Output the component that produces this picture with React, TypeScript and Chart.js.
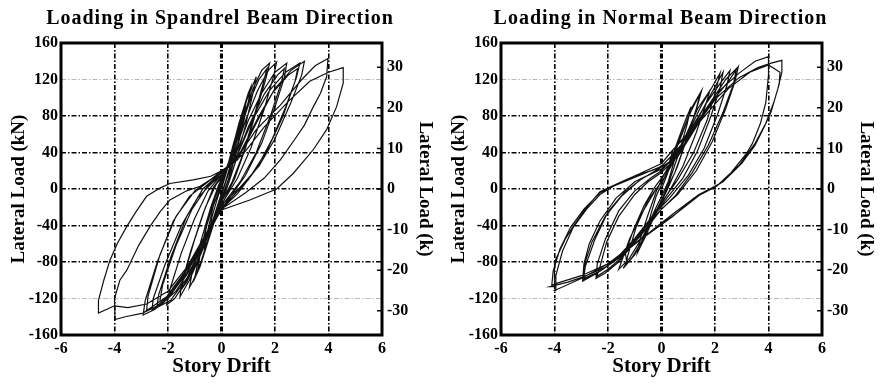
import React, { useEffect, useRef } from "react";
import { Chart, registerables } from "chart.js";

Chart.register(...registerables);

// ---------- axis tick values ----------
const driftTicks = [-6, -4, -2, 0, 2, 4, 6];
const kNTicks = [-160, -120, -80, -40, 0, 40, 80, 120, 160];
const kipTicks = [-30, -20, -10, 0, 10, 20, 30];
const KN_PER_KIP = 4.448;

const titleSpandrel = "Loading in Spandrel Beam Direction";
const titleNormal = "Loading in Normal Beam Direction";
const xTitle = "Story Drift";
const yTitleKN = "Lateral Load (kN)";
const yTitleKip = "Lateral Load (k)";

type Pt = [number, number];

// ---------- Spandrel beam direction: [drift, load kN] per cycle ----------
const spandrelCycle1: Pt[] = [[0,0],[0.15,15],[0.3,30],[0.45,42],[0.35,28],[0.15,8],[0,-5],[-0.15,-18],[-0.3,-32],[-0.45,-45],[-0.35,-30],[-0.15,-10],[0,3]];
const spandrelCycle2: Pt[] = [[0.2,20],[0.45,48],[0.65,68],[0.55,52],[0.3,20],[0.05,-2],[-0.2,-25],[-0.45,-50],[-0.65,-68],[-0.55,-50],[-0.3,-18],[0,5]];
const spandrelCycle3: Pt[] = [[0.2,22],[0.45,50],[0.7,75],[0.9,92],[0.8,75],[0.55,42],[0.25,10],[0,-10],[-0.25,-30],[-0.5,-55],[-0.75,-78],[-0.9,-91],[-0.8,-72],[-0.55,-40],[-0.25,-10],[0,8]];
const spandrelCycle4: Pt[] = [[0.3,32],[0.65,72],[1.0,105],[1.1,112],[1.0,95],[0.7,58],[0.35,18],[0,-12],[-0.4,-48],[-0.8,-85],[-1.0,-98],[-0.9,-82],[-0.6,-45],[-0.25,-8],[0,12]];
const spandrelCycle5: Pt[] = [[0.3,28],[0.6,62],[0.95,98],[1.3,123],[1.2,108],[0.9,70],[0.55,32],[0.25,5],[0,-15],[-0.35,-42],[-0.7,-75],[-1.05,-100],[-1.2,-108],[-1.1,-92],[-0.75,-55],[-0.4,-20],[-0.1,5],[0.1,15]];
const spandrelCycle6: Pt[] = [[0.4,38],[0.8,78],[1.15,108],[1.5,130],[1.8,138],[1.65,120],[1.3,85],[0.9,45],[0.5,12],[0.1,-12],[-0.3,-35],[-0.75,-70],[-1.2,-100],[-1.55,-118],[-1.5,-104],[-1.15,-68],[-0.7,-28],[-0.3,2],[0,14]];
const spandrelCycle7: Pt[] = [[0.35,30],[0.75,70],[1.1,100],[1.4,120],[1.7,132],[1.55,115],[1.2,78],[0.8,38],[0.4,8],[0,-14],[-0.4,-40],[-0.9,-78],[-1.3,-102],[-1.5,-110],[-1.4,-95],[-1.0,-55],[-0.6,-20],[-0.2,5],[0.1,16]];
const spandrelCycle8: Pt[] = [[0.4,32],[0.9,75],[1.35,108],[1.75,130],[2.06,139],[1.95,124],[1.6,88],[1.1,45],[0.6,12],[0.1,-12],[-0.35,-35],[-0.8,-68],[-1.3,-100],[-1.75,-120],[-2.05,-127],[-1.95,-112],[-1.5,-70],[-1.0,-32],[-0.5,-2],[0,16]];
const spandrelCycle9: Pt[] = [[0.5,35],[1.0,75],[1.5,105],[2.0,128],[2.44,138],[2.35,122],[2.0,90],[1.5,50],[0.9,15],[0.3,-10],[-0.2,-30],[-0.7,-62],[-1.3,-98],[-1.9,-122],[-2.42,-130],[-2.35,-116],[-1.9,-75],[-1.3,-30],[-0.7,0],[0,18]];
const spandrelCycle10: Pt[] = [[0.5,30],[1.0,68],[1.6,104],[2.1,125],[2.35,132],[2.25,118],[1.85,82],[1.3,40],[0.7,8],[0.1,-15],[-0.5,-48],[-1.1,-85],[-1.7,-112],[-2.2,-125],[-2.3,-122],[-2.2,-105],[-1.7,-62],[-1.1,-22],[-0.5,4],[0,16]];
const spandrelCycle11: Pt[] = [[0.6,38],[1.2,78],[1.8,108],[2.4,128],[2.93,138],[2.8,122],[2.4,90],[1.9,55],[1.3,22],[0.6,-5],[0,-22],[-0.6,-55],[-1.3,-92],[-2.0,-120],[-2.5,-132],[-2.93,-138],[-2.85,-122],[-2.4,-80],[-1.8,-35],[-1.2,-8],[-0.5,8],[0,20]];
const spandrelCycle12: Pt[] = [[0.6,32],[1.3,72],[1.9,105],[2.5,125],[2.85,132],[2.75,118],[2.3,80],[1.7,42],[1.0,10],[0.3,-12],[-0.4,-40],[-1.1,-80],[-1.8,-112],[-2.4,-128],[-2.8,-134],[-2.75,-118],[-2.3,-72],[-1.7,-30],[-1.0,-2],[-0.4,10],[0,18]];
const spandrelCycle13: Pt[] = [[0.7,40],[1.4,80],[2.0,110],[2.6,130],[3.1,140],[3.0,125],[2.6,95],[2.0,55],[1.4,25],[0.7,2],[0,-18],[-0.7,-55],[-1.5,-98],[-2.2,-125],[-2.6,-133],[-2.55,-120],[-2.1,-82],[-1.5,-40],[-0.9,-10],[-0.3,8],[0,16]];
const spandrelCycle14: Pt[] = [[0.6,35],[1.3,65],[2.2,92],[3.0,120],[3.5,135],[3.98,143],[3.93,123],[3.7,105],[3.43,90],[3.1,70],[2.8,57],[2.2,32],[1.6,12],[0.9,-4],[0,-22],[-0.6,-50],[-1.3,-88],[-2.05,-118],[-2.93,-136],[-3.6,-140],[-3.98,-143],[-4.0,-120],[-3.8,-100],[-3.54,-89],[-3.1,-62],[-2.67,-41],[-2.3,-25],[-1.93,-12],[-1.3,-2],[-0.8,3],[0,18]];
const spandrelCycle15: Pt[] = [[0.8,38],[1.6,68],[2.5,96],[3.3,118],[4.0,128],[4.55,133],[4.55,116],[4.3,90],[3.93,65],[3.43,43],[2.68,17],[2.06,0],[1.06,-12],[0,-23],[-0.6,-50],[-1.3,-86],[-2.0,-112],[-2.8,-126],[-3.5,-130],[-4.0,-128],[-4.6,-136],[-4.6,-122],[-4.4,-100],[-4.17,-78],[-3.9,-60],[-3.54,-41],[-3.2,-25],[-2.8,-8],[-2.3,1],[-1.93,6],[-1.06,10],[-0.4,14],[0,20]];

const spandrelCycles = [spandrelCycle1, spandrelCycle2, spandrelCycle3, spandrelCycle4, spandrelCycle5, spandrelCycle6, spandrelCycle7, spandrelCycle8, spandrelCycle9, spandrelCycle10, spandrelCycle11, spandrelCycle12, spandrelCycle13, spandrelCycle14, spandrelCycle15];

// ---------- Normal beam direction: [drift, load kN] per cycle ----------
const normalCycle1: Pt[] = [[0,0],[0.2,15],[0.4,32],[0.6,45],[0.45,28],[0.25,8],[0,-8],[-0.2,-20],[-0.4,-33],[-0.55,-43],[-0.4,-28],[-0.2,-8],[0,5]];
const normalCycle2: Pt[] = [[0.25,22],[0.55,48],[0.85,72],[1.1,90],[0.95,70],[0.6,35],[0.25,5],[0,-12],[-0.3,-32],[-0.6,-52],[-0.9,-70],[-0.8,-55],[-0.5,-28],[-0.2,-3],[0,10]];
const normalCycle3: Pt[] = [[0.35,30],[0.75,60],[1.15,90],[1.5,108],[1.35,92],[1.0,60],[0.6,25],[0.2,-2],[-0.2,-25],[-0.6,-50],[-1.0,-72],[-1.43,-87],[-1.3,-80],[-1.35,-70],[-1.05,-45],[-0.65,-18],[-0.25,2],[0,12]];
const normalCycle4: Pt[] = [[0.3,25],[0.7,55],[1.1,85],[1.45,105],[1.3,88],[0.95,55],[0.5,18],[0.1,-6],[-0.3,-30],[-0.7,-55],[-1.1,-75],[-1.35,-84],[-1.25,-72],[-0.95,-42],[-0.5,-12],[-0.1,4],[0.1,12]];
const normalCycle5: Pt[] = [[0.4,28],[0.9,58],[1.35,88],[1.81,108],[1.65,92],[1.3,62],[0.8,25],[0.3,-2],[-0.2,-25],[-0.7,-52],[-1.2,-76],[-1.6,-88],[-1.5,-80],[-1.2,-55],[-0.7,-25],[-0.2,0],[0.1,12]];
const normalCycle6: Pt[] = [[0.5,32],[1.0,62],[1.5,92],[1.9,112],[2.19,127],[2.05,110],[1.7,75],[1.2,40],[0.6,10],[0,-15],[-0.5,-36],[-1.0,-56],[-1.6,-78],[-2.0,-88],[-2.42,-96],[-2.3,-85],[-2.05,-58],[-1.6,-30],[-1.0,-6],[-0.5,8],[0,18]];
const normalCycle7: Pt[] = [[0.6,36],[1.2,68],[1.7,96],[2.0,112],[2.3,128],[2.2,112],[1.85,80],[1.35,42],[0.8,12],[0.2,-10],[-0.4,-34],[-1.0,-58],[-1.6,-80],[-2.1,-92],[-2.45,-98],[-2.4,-82],[-2.1,-55],[-1.6,-24],[-1.0,-2],[-0.4,12],[0,20]];
const normalCycle8: Pt[] = [[0.5,36],[1.1,66],[1.7,95],[2.2,116],[2.56,130],[2.45,114],[2.1,82],[1.6,45],[1.0,15],[0.3,-10],[-0.4,-32],[-1.0,-54],[-1.7,-77],[-2.3,-90],[-2.92,-100],[-2.85,-85],[-2.5,-56],[-2.0,-25],[-1.4,-4],[-0.7,12],[0,22]];
const normalCycle9: Pt[] = [[0.6,38],[1.3,70],[2.0,100],[2.5,118],[2.87,134],[2.75,118],[2.4,88],[1.9,52],[1.3,20],[0.6,-6],[0,-22],[-0.8,-52],[-1.6,-76],[-2.3,-90],[-2.9,-98],[-2.85,-80],[-2.6,-58],[-2.1,-30],[-1.5,-8],[-0.8,10],[0,24]];
const normalCycle10: Pt[] = [[0.6,35],[1.3,68],[1.9,98],[2.4,120],[2.8,132],[2.7,116],[2.3,84],[1.75,48],[1.15,18],[0.5,-8],[-0.2,-28],[-1.0,-56],[-1.8,-80],[-2.4,-92],[-2.95,-101],[-2.9,-82],[-2.7,-60],[-2.3,-35],[-1.7,-10],[-1.0,8],[-0.3,18],[0.3,30]];
const normalCycle11: Pt[] = [[0.43,43],[1.3,72],[2.06,105],[2.9,127],[3.5,140],[4.0,145],[4.0,125],[3.9,95],[3.7,72],[3.4,50],[3.18,39],[2.6,18],[2.06,3],[1.2,-10],[0.43,-30],[-0.8,-56],[-2.05,-85],[-2.9,-96],[-3.5,-102],[-4.17,-107],[-4.0,-107],[-4.0,-80],[-3.6,-55],[-3.3,-41],[-2.8,-20],[-2.3,-3],[-1.5,8],[-0.8,17],[0,28]];
const normalCycle12: Pt[] = [[0.43,43],[1.3,70],[2.06,100],[2.9,122],[3.6,133],[4.1,138],[4.5,141],[4.5,128],[4.35,110],[4.1,85],[3.87,70],[3.5,48],[3.0,28],[2.3,8],[1.5,-5],[0.5,-28],[-0.8,-55],[-2.0,-82],[-3.0,-98],[-3.98,-111],[-3.95,-95],[-3.7,-68],[-3.3,-42],[-2.8,-22],[-2.3,-6],[-1.8,3],[-0.8,15],[0,25]];
const normalCycle13: Pt[] = [[0.5,40],[1.5,76],[2.5,110],[3.3,128],[4.0,136],[4.43,128],[4.4,115],[4.2,95],[3.9,72],[3.5,50],[2.9,26],[2.2,6],[1.4,-6],[0.4,-28],[-0.9,-58],[-2.0,-82],[-3.0,-95],[-4.1,-105],[-4.05,-90],[-3.8,-66],[-3.4,-42],[-2.9,-22],[-2.3,-4],[-1.6,6],[-0.8,16],[0,24]];

const normalCycles = [normalCycle1, normalCycle2, normalCycle3, normalCycle4, normalCycle5, normalCycle6, normalCycle7, normalCycle8, normalCycle9, normalCycle10, normalCycle11, normalCycle12, normalCycle13];

const SERIF = "'Liberation Serif', 'Times New Roman', Times, serif";

const framePlugin = {
  id: "frame",
  beforeDraw(chart: any) {
    // slightly widen the letter spacing of the chart title only, like the scanned original
    const tb = chart.titleBlock;
    if (tb && !tb.__spaced) {
      const orig = tb.draw.bind(tb);
      tb.draw = (area: any) => {
        const c = chart.ctx;
        c.save();
        (c as any).letterSpacing = "1px";
        orig(area);
        c.restore();
      };
      tb.__spaced = true;
    }
  },
  afterDraw(chart: any) {
    const { ctx, chartArea } = chart;
    const { left, right, top, bottom } = chartArea;
    ctx.save();
    const y2 = chart.scales.y2;
    ctx.strokeStyle = "#000";
    ctx.lineWidth = 1.5;
    ctx.beginPath();
    kipTicks.forEach((v) => {
      const py = y2.getPixelForValue(v);
      ctx.moveTo(right - 5, py);
      ctx.lineTo(right, py);
    });
    ctx.stroke();
    ctx.lineWidth = 3;
    ctx.strokeRect(left, top, right - left, bottom - top);
    ctx.restore();
  },
};

function makeConfig(title: string, cycles: Pt[][], rightWidth: number): any {
  const points = cycles.flat().map(([x, y]) => ({ x, y }));
  const gridDash = [5, 2, 1.5, 2];
  return {
    type: "scatter",
    data: {
      datasets: [
        {
          data: points,
          showLine: true,
          borderColor: "#111",
          borderWidth: 1.2,
          pointRadius: 0,
          tension: 0,
          fill: false,
        },
      ],
    },
    options: {
      responsive: false,
      animation: false,
      events: [],
      layout: { padding: 0 },
      plugins: {
        legend: { display: false },
        tooltip: { enabled: false },
        title: {
          display: true,
          text: title,
          color: "#000",
          font: { family: SERIF, size: 20, weight: "bold" },
          padding: { top: 6.5, bottom: 12.5 },
        },
      },
      scales: {
        x: {
          type: "linear",
          min: -6,
          max: 6,
          afterBuildTicks: (s: any) => { s.ticks = driftTicks.map((v) => ({ value: v })); },
          afterFit: (s: any) => { s.height = 48; },
          ticks: { color: "#000", padding: 4, font: { family: SERIF, size: 16, weight: "bold" } },
          grid: {
            color: "#000",
            lineWidth: (c: any) => (c.tick && c.tick.value === 0 ? 3 : 1.6),
            drawTicks: false,
          },
          border: { display: false, dash: gridDash },
          title: {
            display: true,
            text: xTitle,
            color: "#000",
            font: { family: SERIF, size: 21, weight: "bold" },
            padding: { top: 0, bottom: 3.4 },
          },
        },
        y: {
          type: "linear",
          position: "left",
          min: -160,
          max: 160,
          afterBuildTicks: (s: any) => { s.ticks = kNTicks.map((v) => ({ value: v })); },
          afterFit: (s: any) => { s.width = 61; },
          ticks: { color: "#000", padding: 3, font: { family: SERIF, size: 16, weight: "bold" } },
          grid: {
            color: (c: any) => (c.tick && Math.abs(c.tick.value) === 120 ? "#b8b8b8" : "#000"),
            lineWidth: (c: any) => (c.tick && Math.abs(c.tick.value) === 120 ? 1 : 1.6),
            drawTicks: false,
          },
          border: { display: false, dash: gridDash },
          title: {
            display: true,
            text: yTitleKN,
            color: "#000",
            font: { family: SERIF, size: 19, weight: "bold" },
            padding: { top: 8, bottom: 0 },
          },
        },
        y2: {
          type: "linear",
          position: "right",
          min: -160 / KN_PER_KIP,
          max: 160 / KN_PER_KIP,
          afterBuildTicks: (s: any) => { s.ticks = kipTicks.map((v) => ({ value: v })); },
          afterFit: (s: any) => { s.width = rightWidth; },
          ticks: { color: "#000", padding: 5, font: { family: SERIF, size: 16, weight: "bold" } },
          grid: { drawOnChartArea: false, drawTicks: false },
          border: { display: false },
          title: {
            display: true,
            text: yTitleKip,
            color: "#000",
            font: { family: SERIF, size: 19, weight: "bold" },
            padding: { top: 3.5, bottom: 0 },
          },
        },
      },
    },
    plugins: [framePlugin],
  };
}

function HysteresisChart(props: { title: string; cycles: Pt[][]; width: number; left: number }) {
  const ref = useRef<HTMLCanvasElement | null>(null);
  useEffect(() => {
    if (!ref.current) return;
    const chart = new Chart(ref.current, makeConfig(props.title, props.cycles, props.width - 382));
    return () => chart.destroy();
  }, []);
  return (
    <canvas
      ref={ref}
      width={props.width}
      height={383}
      style={{ position: "absolute", left: props.left, top: 0, width: props.width, height: 383, display: "block" }}
    />
  );
}

export default function App() {
  useEffect(() => {
    document.body.style.margin = "0";
    document.body.style.background = "#fff";
  }, []);
  return (
    <div style={{ position: "relative", width: 881, height: 383, background: "#fff", overflow: "hidden" }}>
      <HysteresisChart title={titleSpandrel} cycles={spandrelCycles} width={440} left={0} />
      <HysteresisChart title={titleNormal} cycles={normalCycles} width={441} left={440} />
    </div>
  );
}
